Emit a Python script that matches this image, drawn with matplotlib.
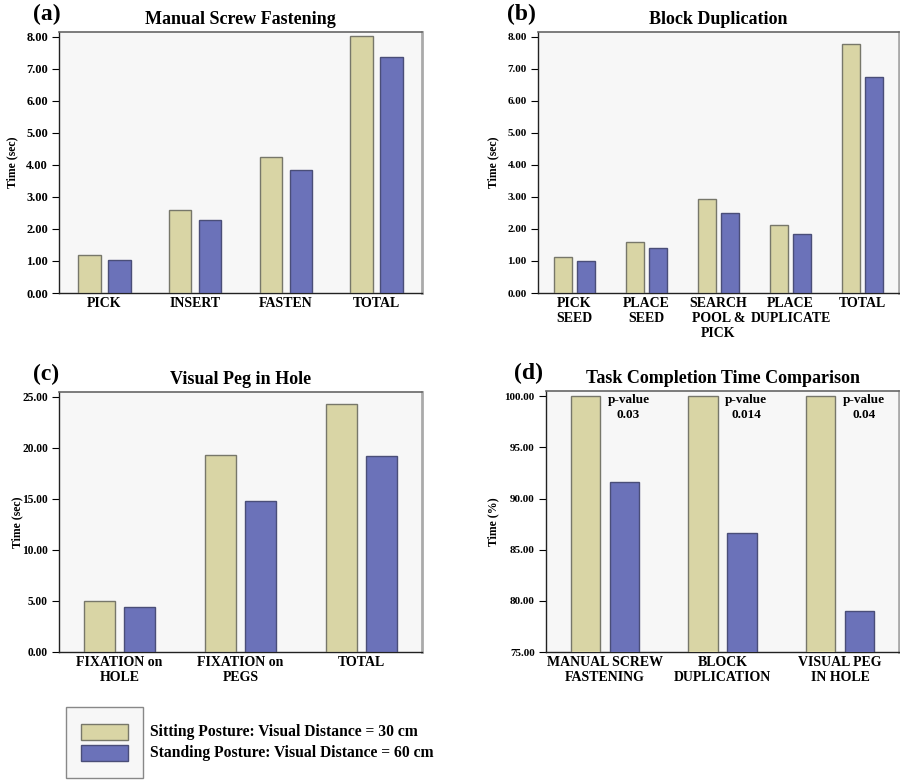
import matplotlib
matplotlib.use("Agg")
import matplotlib.pyplot as plt
import numpy as np
from matplotlib.patches import Rectangle

plt.rcParams['font.family'] = ['Liberation Serif', 'DejaVu Serif']
plt.rcParams['font.weight'] = 'bold'

# ---- data ----
a_cats = ["PICK", "INSERT", "FASTEN", "TOTAL"]
a_sit = [1.20, 2.60, 4.25, 8.03]
a_stand = [1.04, 2.28, 3.83, 7.36]

b_cats = ["PICK\nSEED", "PLACE\nSEED", "SEARCH\nPOOL &\nPICK", "PLACE\nDUPLICATE", "TOTAL"]
b_sit = [1.12, 1.60, 2.95, 2.12, 7.76]
b_stand = [1.00, 1.42, 2.50, 1.85, 6.73]

c_cats = ["FIXATION on\nHOLE", "FIXATION on\nPEGS", "TOTAL"]
c_sit = [4.98, 19.30, 24.32]
c_stand = [4.43, 14.78, 19.17]

d_cats = ["MANUAL SCREW\nFASTENING", "BLOCK\nDUPLICATION", "VISUAL PEG\nIN HOLE"]
d_sit = [100.0, 100.0, 100.0]
d_stand = [91.6, 86.66, 78.97]
d_pvals = ["0.03", "0.014", "0.04"]

legend_labels = ["Sitting Posture: Visual Distance = 30 cm",
                 "Standing Posture: Visual Distance = 60 cm"]

SIT_C = "#d9d5a5"
SIT_E = "#77776a"
STD_C = "#6b72b9"
STD_E = "#4a4e78"
BG = "#f7f7f7"

fig = plt.figure(figsize=(9, 7.81), dpi=100)

def panel(rect, cats, sit, stand, ylim, yticks, title, label, ylabel,
          width=0.25, off=0.165, tick_fs=10, ytick_fs=8, label_x=-0.12,
          ylabel_x=-0.12):
    ax = fig.add_axes(rect)
    ax.set_facecolor(BG)
    x = np.arange(len(cats))
    ax.bar(x - off, sit, width, color=SIT_C, edgecolor=SIT_E, linewidth=1.0, zorder=3)
    ax.bar(x + off, stand, width, color=STD_C, edgecolor=STD_E, linewidth=1.0, zorder=3)
    ax.set_xlim(-0.5, len(cats) - 0.5)
    ax.set_ylim(*ylim)
    ax.set_yticks(yticks)
    ax.set_yticklabels([f"{v:.2f}" for v in yticks], fontsize=ytick_fs, fontweight='bold')
    ax.set_xticks(x)
    ax.set_xticklabels(cats, fontsize=tick_fs, fontweight='bold', linespacing=1.2)
    ax.tick_params(axis='x', length=0, pad=3)
    ax.tick_params(axis='y', length=5, width=0.8, pad=3)
    for s in ['left', 'bottom']:
        ax.spines[s].set_color('#222222')
        ax.spines[s].set_linewidth(1.0)
    ax.spines['top'].set_color('#666666')
    ax.spines['top'].set_linewidth(1.2)
    ax.spines['right'].set_color('#aaaaaa')
    ax.spines['right'].set_linewidth(2.0)
    ax.set_title(title, fontsize=13, fontweight='bold', pad=6)
    ax.set_ylabel(ylabel, fontsize=8.5, fontweight='bold')
    ax.yaxis.set_label_coords(ylabel_x, 0.5)
    ax.text(label_x, 1.025, label, transform=ax.transAxes, fontsize=17,
            fontweight='bold', ha='left', va='bottom')
    return ax

W, H = 900, 781
def r(l, t, rgt, b):
    return [l / W, (H - b) / H, (rgt - l) / W, (b - t) / H]

panel(r(59, 32, 422, 293), a_cats, a_sit, a_stand, (0, 8.15),
      np.arange(0, 8.01, 1.0), "Manual Screw Fastening", "(a)", "Time (sec)",
      ytick_fs=9, label_x=-0.072, ylabel_x=-0.113)
panel(r(538, 32, 899, 293), b_cats, b_sit, b_stand, (0, 8.15),
      np.arange(0, 8.01, 1.0), "Block Duplication", "(b)", "Time (sec)",
      off=0.16, ytick_fs=8, label_x=-0.085, ylabel_x=-0.108)
panel(r(59, 392, 422, 652), c_cats, c_sit, c_stand, (0, 25.45),
      np.arange(0, 25.01, 5.0), "Visual Peg in Hole", "(c)", "Time (sec)",
      ytick_fs=8.3, label_x=-0.072, ylabel_x=-0.097)
axd = panel(r(546, 391, 899, 652), d_cats, d_sit, d_stand, (75, 100.52),
            np.arange(75, 100.01, 5.0), "Task Completion Time Comparison", "(d)",
            "Time (%)", ytick_fs=8, label_x=-0.09, ylabel_x=-0.131)
for i, p in enumerate(d_pvals):
    axd.text(i + 0.2, 99.68, "p-value", ha='center', va='center',
             fontsize=9.5, fontweight='bold', zorder=4)
    axd.text(i + 0.2, 98.21, p, ha='center', va='center',
             fontsize=9.5, fontweight='bold', zorder=4)

# legend box drawn manually
fig.patches.append(Rectangle((66 / W, (H - 778) / H), 77 / W, 71 / H,
                             transform=fig.transFigure, facecolor=BG,
                             edgecolor='#888888', linewidth=1.0))
fig.patches.append(Rectangle((81 / W, (H - 740) / H), 47 / W, 16 / H,
                             transform=fig.transFigure, facecolor=SIT_C,
                             edgecolor=SIT_E, linewidth=1.0))
fig.patches.append(Rectangle((81 / W, (H - 761) / H), 47 / W, 16 / H,
                             transform=fig.transFigure, facecolor=STD_C,
                             edgecolor=STD_E, linewidth=1.0))
fig.text(150 / W, (H - 732) / H, legend_labels[0], fontsize=11.25,
         fontweight='bold', ha='left', va='center')
fig.text(150 / W, (H - 753) / H, legend_labels[1], fontsize=11.25,
         fontweight='bold', ha='left', va='center')

fig.savefig("out.png", dpi=100, facecolor='white')
